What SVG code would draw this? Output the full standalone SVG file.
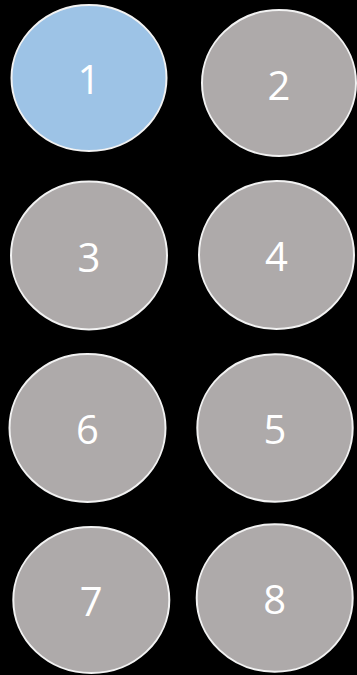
<svg xmlns="http://www.w3.org/2000/svg" width="357" height="675" viewBox="0 0 357 675">
<style>
.n{stroke:#f2f2f2;stroke-width:2}
.g{fill:#aeaaaa}
.b{fill:#9dc3e6}
.t{font-family:"Open Sans","Noto Sans",sans-serif;font-size:40px;fill:#ffffff;text-anchor:middle}
</style>
<rect width="357" height="675" fill="#000000"/>
<g id="connectors"></g>
<g id="n1"><ellipse class="n b" cx="89" cy="78" rx="77.5" ry="73"/><text class="t" x="89" y="94">1</text></g>
<g id="n2"><ellipse class="n g" cx="279" cy="83" rx="77" ry="73"/><text class="t" x="279" y="100">2</text></g>
<g id="n3"><ellipse class="n g" cx="89" cy="255.5" rx="78" ry="74"/><text class="t" x="89" y="272">3</text></g>
<g id="n4"><ellipse class="n g" cx="276.5" cy="255" rx="77.5" ry="74"/><text class="t" x="276.5" y="271">4</text></g>
<g id="n6"><ellipse class="n g" cx="87.5" cy="428" rx="78" ry="74"/><text class="t" x="87.5" y="444">6</text></g>
<g id="n5"><ellipse class="n g" cx="275" cy="428" rx="77.7" ry="73.7"/><text class="t" x="275" y="444">5</text></g>
<g id="n7"><ellipse class="n g" cx="91.3" cy="600" rx="78" ry="73"/><text class="t" x="91.3" y="616">7</text></g>
<g id="n8"><ellipse class="n g" cx="274.7" cy="598" rx="78" ry="73.7"/><text class="t" x="274.7" y="614">8</text></g>
</svg>
